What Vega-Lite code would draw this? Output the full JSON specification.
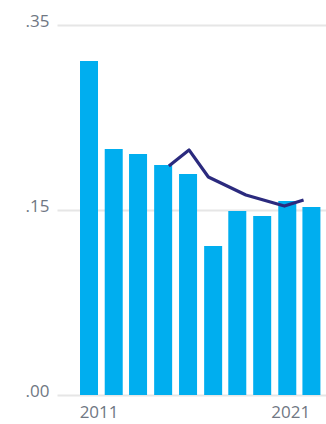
{
  "$schema": "https://vega.github.io/schema/vega-lite/v6.json",
  "width": 269,
  "height": 370,
  "autosize": "none",
  "padding": {"left": 57, "top": 25, "right": 0, "bottom": 29},
  "background": "white",
  "config": {
    "view": {"stroke": null},
    "axis": {"labelFont": "Open Sans", "labelFontWeight": "normal", "labelFontSize": 17, "labelColor": "#707783"}
  },
  "datasets": {
    "bars": [
      {"period": 2010.50, "value": 0.2708},
      {"period": 2011.79, "value": 0.1995},
      {"period": 2013.06, "value": 0.1954},
      {"period": 2014.37, "value": 0.1865},
      {"period": 2015.67, "value": 0.1792},
      {"period": 2016.98, "value": 0.1208},
      {"period": 2018.24, "value": 0.1492},
      {"period": 2019.54, "value": 0.1451},
      {"period": 2020.85, "value": 0.1573},
      {"period": 2022.11, "value": 0.1524}
    ],
    "line": [
      {"period": 2014.67, "value": 0.1857},
      {"period": 2015.72, "value": 0.1987},
      {"period": 2016.73, "value": 0.1768},
      {"period": 2018.69, "value": 0.1622},
      {"period": 2020.70, "value": 0.1532},
      {"period": 2021.70, "value": 0.1581}
    ]
  },
  "layer": [
    {
      "data": {"name": "bars"},
      "mark": {"type": "bar", "size": 18, "color": "#00aeef"},
      "encoding": {
        "x": {
          "field": "period", "type": "quantitative",
          "scale": {"domain": [2009.09, 2022.61], "nice": false, "zero": false},
          "axis": {"title": null, "values": [2011, 2021], "format": "d", "domain": false, "ticks": false, "grid": false, "labelPadding": 9}
        },
        "y": {
          "field": "value", "type": "quantitative",
          "scale": {"domain": [0, 0.3], "nice": false},
          "axis": {
            "title": null, "values": [0, 0.15, 0.3], "domain": false, "ticks": false,
            "gridColor": "#e6e6e6", "gridWidth": 2, "labelPadding": 8, "labelBaseline": "alphabetic",
            "labelExpr": "datum.value == 0 ? '.00' : datum.value < 0.2 ? '.15' : '.35'",
            "labelOffset": 1
          }
        }
      }
    },
    {
      "data": {"name": "line"},
      "mark": {"type": "line", "color": "#2b2a7e", "strokeWidth": 3.2, "strokeJoin": "round"},
      "encoding": {
        "x": {"field": "period", "type": "quantitative"},
        "y": {"field": "value", "type": "quantitative"}
      }
    }
  ]
}
